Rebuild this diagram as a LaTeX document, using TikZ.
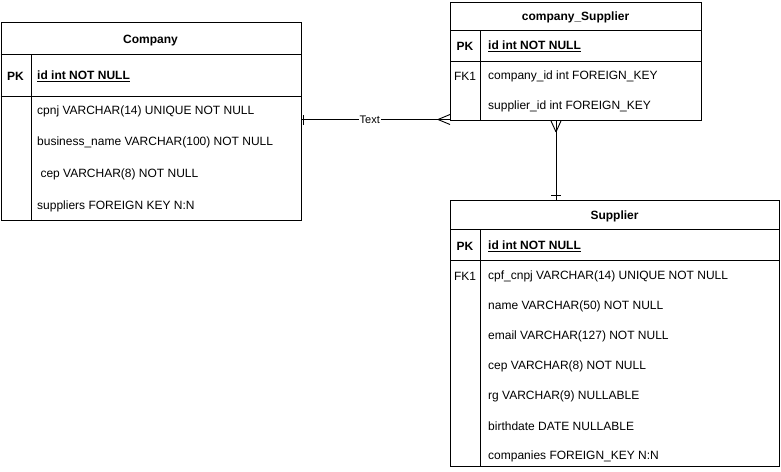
\documentclass[tikz,border=0pt]{standalone}
\usepackage{fontspec}
\setmainfont{Liberation Sans}
\begin{document}
\begin{tikzpicture}[x=1pt,y=-1pt,
  tbl/.style={draw,line width=0.9pt,inner sep=0pt,anchor=north west},
  sep/.style={line width=0.9pt},
  hd/.style={font=\fontsize{12}{14}\selectfont\bfseries},
  key/.style={font=\fontsize{12}{14}\selectfont\bfseries,anchor=center},
  fk/.style={font=\fontsize{12}{14}\selectfont,anchor=center},
  row/.style={font=\fontsize{12}{14}\selectfont,anchor=west,inner sep=0pt},
  pkrow/.style={font=\fontsize{12}{14}\selectfont\bfseries,anchor=west,inner sep=0pt},
  con/.style={line width=0.9pt},
  lbl/.style={font=\fontsize{11}{13}\selectfont,fill=white,inner sep=1pt}]
\useasboundingbox (0,0) rectangle (781,471);
% Company
\node[tbl,minimum width=300pt,minimum height=198pt] (company) at (0.5,22) {};
\draw[sep] (0.5,54) -- (300.5,54);
\draw[sep] (0.5,96) -- (300.5,96);
\draw[sep] (31,54) -- (31,220);
\node[hd] (companyh) at (150.5,41) {Company};
\node[key] (companypk) at (15.5,76) {PK};
\node[pkrow] (companyid) at (37,76) {\underline{id int NOT NULL}};
\node[row] (c1) at (37,111) {cpnj VARCHAR(14) UNIQUE NOT NULL};
\node[row] (c2) at (37,142) {business\_name VARCHAR(100) NOT NULL};
\node[row] (c3) at (37,174) {\ cep VARCHAR(8) NOT NULL};
\node[row] (c4) at (37,206) {suppliers FOREIGN KEY N:N};
% company_Supplier
\node[tbl,minimum width=251pt,minimum height=118pt] (cs) at (450,2) {};
\draw[sep] (450,30) -- (701,30);
\draw[sep] (450,61) -- (701,61);
\draw[sep] (480.5,30) -- (480.5,120);
\node[hd] (csh) at (575.5,17) {company\_Supplier};
\node[key] (cspk) at (465,46) {PK};
\node[pkrow] (csid) at (488,46) {\underline{id int NOT NULL}};
\node[fk] (csfk) at (465,76) {FK1};
\node[row] (cs1) at (488,76) {company\_id int FOREIGN\_KEY};
\node[row] (cs2) at (488,106) {supplier\_id int FOREIGN\_KEY};
% Supplier
\node[tbl,minimum width=329pt,minimum height=266pt] (supplier) at (450,200) {};
\draw[sep] (450,229.5) -- (779,229.5);
\draw[sep] (450,260.5) -- (779,260.5);
\draw[sep] (480.5,229.5) -- (480.5,466);
\node[hd] (suph) at (614.5,216) {Supplier};
\node[key] (suppk) at (465,246) {PK};
\node[pkrow] (supid) at (488,246) {\underline{id int NOT NULL}};
\node[fk] (supfk) at (465,276) {FK1};
\node[row] (s1) at (488,276) {cpf\_cnpj VARCHAR(14) UNIQUE NOT NULL};
\node[row] (s2) at (488,306) {name VARCHAR(50) NOT NULL};
\node[row] (s3) at (488,336) {email VARCHAR(127) NOT NULL};
\node[row] (s4) at (488,366) {cep VARCHAR(8) NOT NULL};
\node[row] (s5) at (488,396) {rg VARCHAR(9) NULLABLE};
\node[row] (s6) at (488,426) {birthdate DATE NULLABLE};
\node[row] (s7) at (488,456) {companies FOREIGN\_KEY N:N};
% connector Company - company_Supplier
\coordinate (a1) at (company.north east |- 0,119.5);
\coordinate (a2) at (cs.south west |- 0,119.5);
\draw[con] (a1) -- (a2) node[lbl,pos=0.46] (t) {Text};
\draw[con] ([xshift=2pt,yshift=-5pt]a1) -- ([xshift=2pt,yshift=5pt]a1);
\draw[con] ([xshift=-12pt]a2) -- ([yshift=-5pt]a2);
\draw[con] ([xshift=-12pt]a2) -- ([yshift=5pt]a2);
% connector company_Supplier - Supplier
\coordinate (b1) at (556,0 |- cs.south);
\coordinate (b2) at (556,0 |- supplier.north);
\draw[con] (b1) -- (b2);
\draw[con] ([yshift=-11pt]b1) -- ([xshift=-5pt]b1);
\draw[con] ([yshift=-11pt]b1) -- ([xshift=5pt]b1);
\draw[con] ([xshift=-5pt,yshift=5pt]b2) -- ([xshift=5pt,yshift=5pt]b2);
\end{tikzpicture}
\end{document}
